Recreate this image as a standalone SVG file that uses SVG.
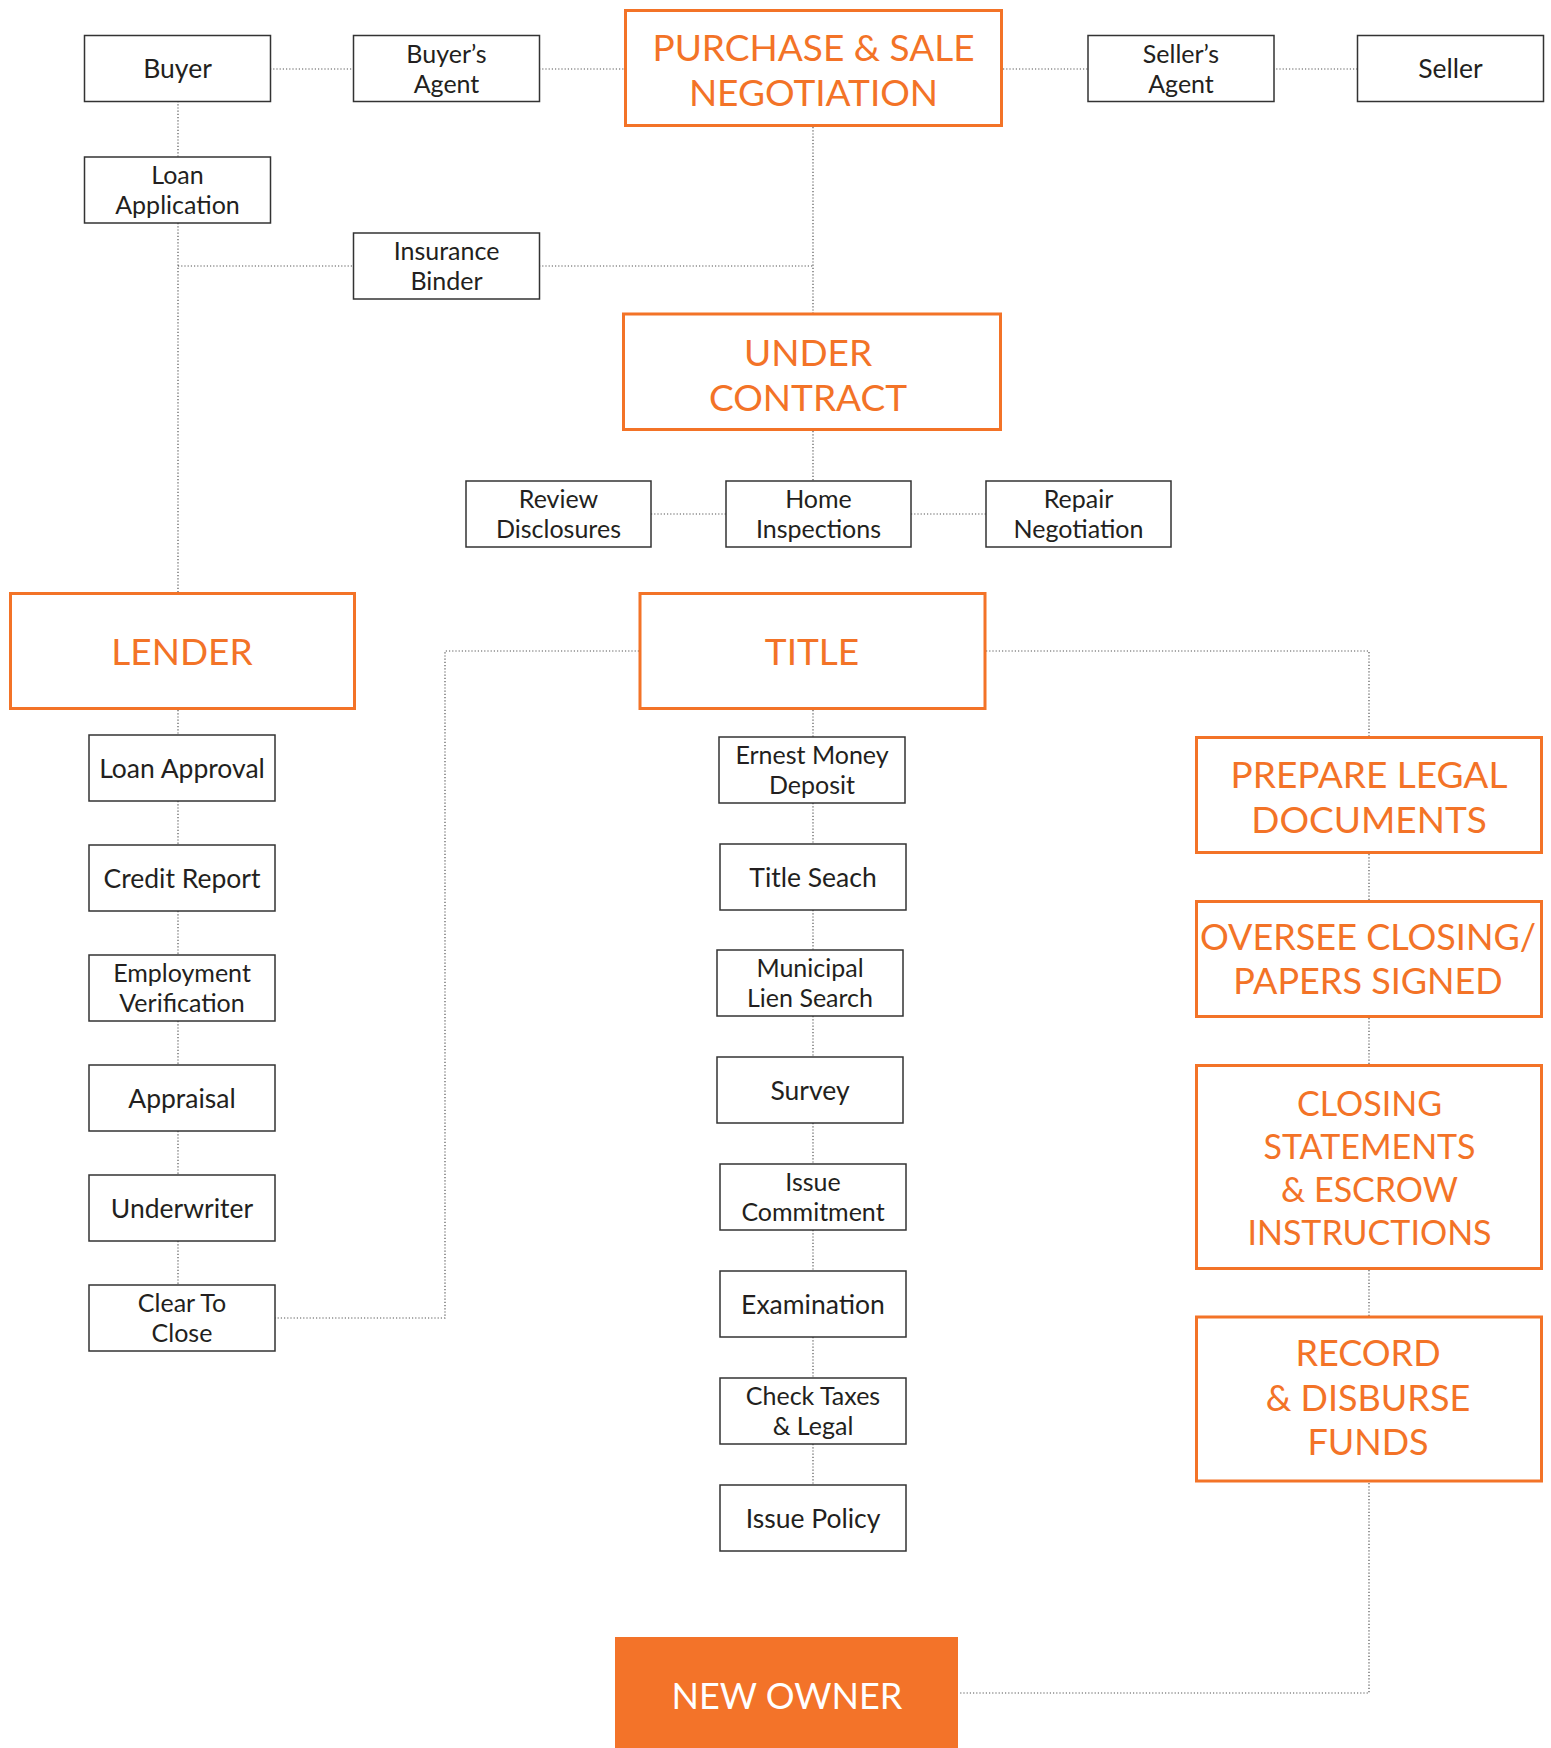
<svg xmlns="http://www.w3.org/2000/svg" width="1551" height="1748" viewBox="0 0 1551 1748">
<style>
.bx{fill:#fff;stroke:#333;stroke-width:1.5}
.ob{fill:#fff;stroke:#F37327;stroke-width:3}
.t{font-family:Lato,"Liberation Sans",sans-serif;font-size:26.5px;fill:#231F20;text-anchor:middle}
.t2{font-family:Lato,"Liberation Sans",sans-serif;font-size:25px;fill:#231F20;text-anchor:middle}
.o{font-family:Lato,"Liberation Sans",sans-serif;font-size:37px;fill:#F37327;text-anchor:middle}
.c{fill:none;stroke:#555;stroke-width:1.2;stroke-dasharray:1.2 2}
</style>
<rect width="1551" height="1748" fill="#fff"/>
<g id="connectors">
<path class="c" d="M270 69H353M539 69H624M1003 69H1088M1273 69H1357"/>
<path class="c" d="M178 101V157M178 223V592M178 266H354M539 266H813M813 127V313M813 431V481"/>
<path class="c" d="M651 514H726M911 514H986"/>
<path class="c" d="M178 710V735M178 801V845M178 911V955M178 1021V1065M178 1131V1175M178 1241V1285"/>
<path class="c" d="M639 651H445V1318H275"/>
<path class="c" d="M986 651H1369V737M1369 854V901M1369 1018V1065M1369 1270V1316M1369 1483V1693H960"/>
<path class="c" d="M813 710V737M813 803V844M813 910V950M813 1016V1057M813 1123V1164M813 1230V1271M813 1337V1378M813 1444V1485"/>
</g>
<g id="buyer"><rect class="bx" x="84.5" y="35.5" width="186" height="66"/><text class="t" x="177.5" y="78">Buyer</text></g>
<g id="buyers-agent"><rect class="bx" x="353.5" y="35.5" width="186" height="66"/><text class="t2" x="446.5" y="62.5">Buyer’s<tspan x="446.5" dy="30">Agent</tspan></text></g>
<g id="purchase-sale"><rect class="ob" x="625.5" y="10.5" width="376" height="115"/><text class="o" x="813.5" y="61">PURCHASE &amp; SALE<tspan x="813.5" dy="44.5">NEGOTIATION</tspan></text></g>
<g id="sellers-agent"><rect class="bx" x="1088" y="35.5" width="186" height="66"/><text class="t2" x="1181" y="62.5">Seller’s<tspan x="1181" dy="30">Agent</tspan></text></g>
<g id="seller"><rect class="bx" x="1357.5" y="35.5" width="186" height="66"/><text class="t" x="1450.5" y="78">Seller</text></g>
<g id="loan-application"><rect class="bx" x="84.5" y="157" width="186" height="66"/><text class="t2" x="177.5" y="184">Loan<tspan x="177.5" dy="30">Application</tspan></text></g>
<g id="insurance-binder"><rect class="bx" x="353.5" y="233" width="186" height="66"/><text class="t2" x="446.5" y="260">Insurance<tspan x="446.5" dy="30">Binder</tspan></text></g>
<g id="under-contract"><rect class="ob" x="623.5" y="314" width="377" height="115.5"/><text class="o" x="808" y="366">UNDER<tspan x="808" dy="44.5">CONTRACT</tspan></text></g>
<g id="review-disclosures"><rect class="bx" x="466" y="481" width="185" height="66"/><text class="t2" x="558.5" y="508">Review<tspan x="558.5" dy="30">Disclosures</tspan></text></g>
<g id="home-inspections"><rect class="bx" x="726" y="481" width="185" height="66"/><text class="t2" x="818.5" y="508">Home<tspan x="818.5" dy="30">Inspections</tspan></text></g>
<g id="repair-negotiation"><rect class="bx" x="986" y="481" width="185" height="66"/><text class="t2" x="1078.5" y="508">Repair<tspan x="1078.5" dy="30">Negotiation</tspan></text></g>
<g id="lender"><rect class="ob" x="10.5" y="593.5" width="344" height="115"/><text class="o" x="182" y="665">LENDER</text></g>
<g id="title"><rect class="ob" x="640" y="593.5" width="345" height="115"/><text class="o" x="812" y="665">TITLE</text></g>
<g id="loan-approval"><rect class="bx" x="89" y="735" width="186" height="66"/><text class="t" x="182" y="777.5">Loan Approval</text></g>
<g id="credit-report"><rect class="bx" x="89" y="845" width="186" height="66"/><text class="t" x="182" y="887.5">Credit Report</text></g>
<g id="employment-verification"><rect class="bx" x="89" y="955" width="186" height="66"/><text class="t2" x="182" y="982">Employment<tspan x="182" dy="30">Verification</tspan></text></g>
<g id="appraisal"><rect class="bx" x="89" y="1065" width="186" height="66"/><text class="t" x="182" y="1107.5">Appraisal</text></g>
<g id="underwriter"><rect class="bx" x="89" y="1175" width="186" height="66"/><text class="t" x="182" y="1217.5">Underwriter</text></g>
<g id="clear-to-close"><rect class="bx" x="89" y="1285" width="186" height="66"/><text class="t2" x="182" y="1312">Clear To<tspan x="182" dy="30">Close</tspan></text></g>
<g id="ernest-money"><rect class="bx" x="719" y="737" width="186" height="66"/><text class="t2" x="812" y="764">Ernest Money<tspan x="812" dy="30">Deposit</tspan></text></g>
<g id="title-seach"><rect class="bx" x="720" y="844" width="186" height="66"/><text class="t" x="813" y="886.5">Title Seach</text></g>
<g id="municipal-lien"><rect class="bx" x="717" y="950" width="186" height="66"/><text class="t2" x="810" y="977">Municipal<tspan x="810" dy="30">Lien Search</tspan></text></g>
<g id="survey"><rect class="bx" x="717" y="1057" width="186" height="66"/><text class="t" x="810" y="1099.5">Survey</text></g>
<g id="issue-commitment"><rect class="bx" x="720" y="1164" width="186" height="66"/><text class="t2" x="813" y="1191">Issue<tspan x="813" dy="30">Commitment</tspan></text></g>
<g id="examination"><rect class="bx" x="720" y="1271" width="186" height="66"/><text class="t" x="813" y="1313.5">Examination</text></g>
<g id="check-taxes"><rect class="bx" x="720" y="1378" width="186" height="66"/><text class="t2" x="813" y="1405">Check Taxes<tspan x="813" dy="30">&amp; Legal</tspan></text></g>
<g id="issue-policy"><rect class="bx" x="720" y="1485" width="186" height="66"/><text class="t" x="813" y="1527.5">Issue Policy</text></g>
<g id="prepare-legal"><rect class="ob" x="1196.5" y="737.5" width="345" height="115"/><text class="o" x="1369" y="788">PREPARE LEGAL<tspan x="1369" dy="44.5">DOCUMENTS</tspan></text></g>
<g id="oversee-closing"><rect class="ob" x="1196.5" y="901.5" width="345" height="115"/><text class="o" x="1368" y="950" style="font-size:36px">OVERSEE CLOSING/<tspan x="1368" dy="43.5">PAPERS SIGNED</tspan></text></g>
<g id="closing-statements"><rect class="ob" x="1196.5" y="1065.5" width="345" height="203"/><text class="o" x="1369.5" y="1116" style="font-size:34px">CLOSING<tspan x="1369.5" dy="43">STATEMENTS</tspan><tspan x="1369.5" dy="43">&amp; ESCROW</tspan><tspan x="1369.5" dy="43">INSTRUCTIONS</tspan></text></g>
<g id="record-disburse"><rect class="ob" x="1196.5" y="1317" width="345" height="164"/><text class="o" x="1368" y="1366" style="font-size:36px">RECORD<tspan x="1368" dy="45">&amp; DISBURSE</tspan><tspan x="1368" dy="44">FUNDS</tspan></text></g>
<g id="new-owner"><rect x="615" y="1637" width="343" height="111" fill="#F37329"/><text class="o" x="787" y="1709" style="font-size:36px;fill:#fff">NEW OWNER</text></g>
</svg>
